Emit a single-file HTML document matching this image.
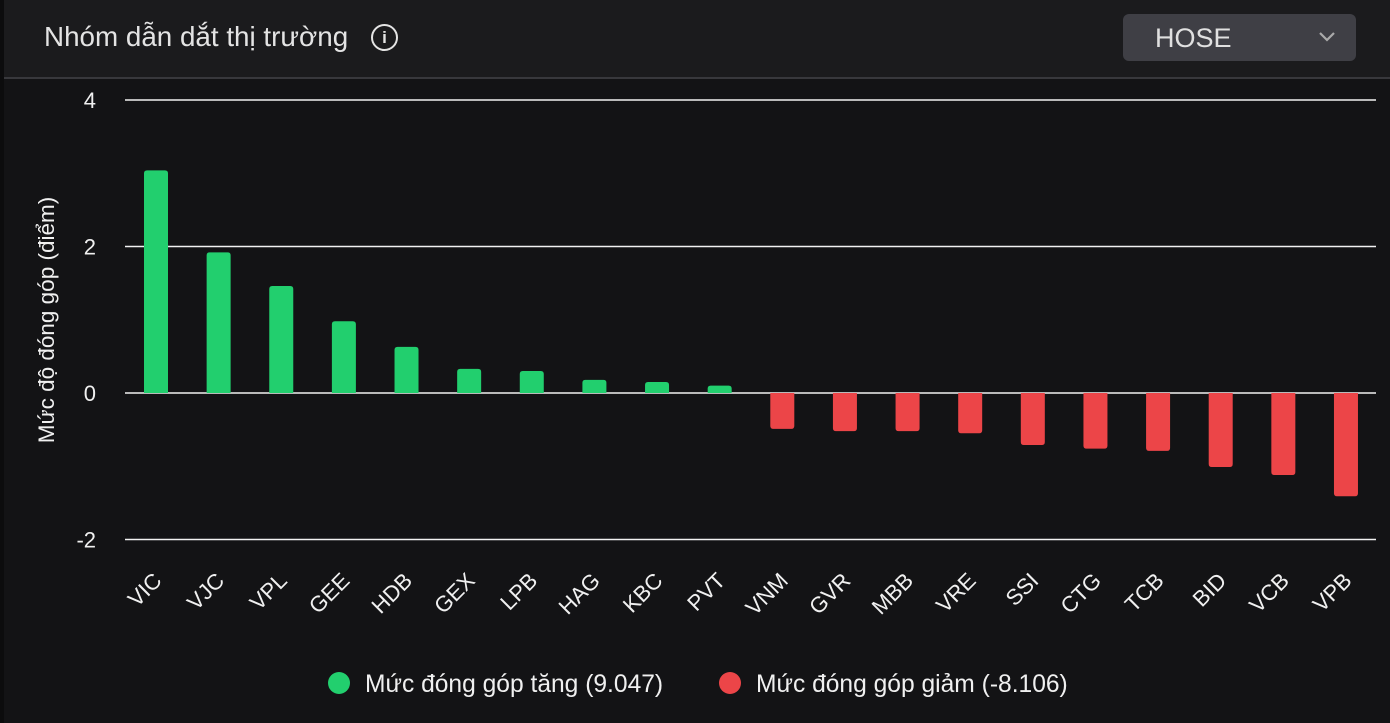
<!DOCTYPE html>
<html><head><meta charset="utf-8"><style>
body{margin:0;width:1390px;height:723px;background:#131315;overflow:hidden;font-family:"Liberation Sans","Noto Sans CJK SC",sans-serif;}
#hdr{position:absolute;left:0;top:0;width:1390px;height:77px;background:#1b1b1d;border-bottom:2px solid #38383c;}
#edge{position:absolute;left:0;top:0;width:4px;height:723px;background:#0c0c0d;}
#title{position:absolute;left:44px;top:21px;font-size:27.8px;color:#e4e4e4;}
#info{position:absolute;left:371px;top:24px;width:27px;height:27px;border:2px solid #e4e4e4;border-radius:50%;box-sizing:border-box;color:#e4e4e4;font:bold 17px "Liberation Sans",sans-serif;text-align:center;line-height:23px;}
#dd{position:absolute;left:1123px;top:14px;width:233px;height:47px;background:#3f3f45;border-radius:6px;}
#dd span{position:absolute;left:32px;top:9px;font-size:27px;color:#e0e0e0;}
svg{position:absolute;left:0;top:0;}
</style></head><body>
<div id="hdr"></div>
<div id="edge"></div>
<div id="title">Nhóm dẫn dắt thị trường</div>
<div id="info">i</div>
<div id="dd"><span>HOSE</span>
<svg width="233" height="47" style="left:0;top:0"><polyline points="197,19 204,26 211,19" fill="none" stroke="#aaa" stroke-width="2.2"/></svg></div>
<svg id="chart" width="1390" height="723"></svg>
<script>
const categories=["VIC","VJC","VPL","GEE","HDB","GEX","LPB","HAG","KBC","PVT","VNM","GVR","MBB","VRE","SSI","CTG","TCB","BID","VCB","VPB"];
const values=[3.04,1.92,1.46,0.98,0.63,0.33,0.30,0.18,0.15,0.10,-0.49,-0.52,-0.52,-0.55,-0.71,-0.76,-0.79,-1.01,-1.12,-1.41];
const yTicks=[4,2,0,-2];
const legendLabels=["Mức đóng góp tăng (9.047)","Mức đóng góp giảm (-8.106)"];
const svg=document.getElementById('chart');
const NS='http://www.w3.org/2000/svg';
const y=v=>393-v*73.25;
const x=i=>156+i*62.63;
function mk(t,a){const e=document.createElementNS(NS,t);for(const k in a)e.setAttribute(k,a[k]);svg.appendChild(e);return e;}
yTicks.forEach(t=>{
 const l=mk('line',{x1:125,x2:1376,y1:y(t),y2:y(t),stroke:'#f2f2f2','stroke-width':1.5});
 
 
 const tx=mk('text',{x:96,y:y(t)+8,'text-anchor':'end',fill:'#f0f0f0','font-size':22});
 tx.textContent=t;
 
 
});
const yt=mk('text',{transform:'translate(54,320) rotate(-90)','text-anchor':'middle',fill:'#f0f0f0','font-size':22.5});
yt.textContent='Mức độ đóng góp (điểm)';


categories.forEach((c,i)=>{
 const v=values[i],top=Math.min(y(v),y(0)),h=Math.abs(y(v)-y(0));
 const r=mk('path',{fill:v>=0?'#22cf6e':'#ec4548'});
 const x0=x(i)-12,w=24,rr=Math.min(3,h/2);
 if(v>=0) r.setAttribute('d',`M${x0},${y(0)} V${top+rr} Q${x0},${top} ${x0+rr},${top} H${x0+w-rr} Q${x0+w},${top} ${x0+w},${top+rr} V${y(0)} Z`);
 else {const b=top+h;r.setAttribute('d',`M${x0},${top} V${b-rr} Q${x0},${b} ${x0+rr},${b} H${x0+w-rr} Q${x0+w},${b} ${x0+w},${b-rr} V${top} Z`);}
 
 
 const t=mk('text',{transform:`translate(${x(i)+7},${582}) rotate(-45)`,'text-anchor':'end',fill:'#f0f0f0','font-size':22});
 t.textContent=c;
 
 
});
[[339,'#22cf6e',365],[730,'#ec4548',756]].forEach((p,i)=>{
 const c=mk('circle',{cx:p[0],cy:683,r:11,fill:p[1]});
 
 
 const t=mk('text',{x:p[2],y:692,fill:'#f0f0f0','font-size':24.6});
 t.textContent=legendLabels[i];
 
 
});
</script>
</body></html>
